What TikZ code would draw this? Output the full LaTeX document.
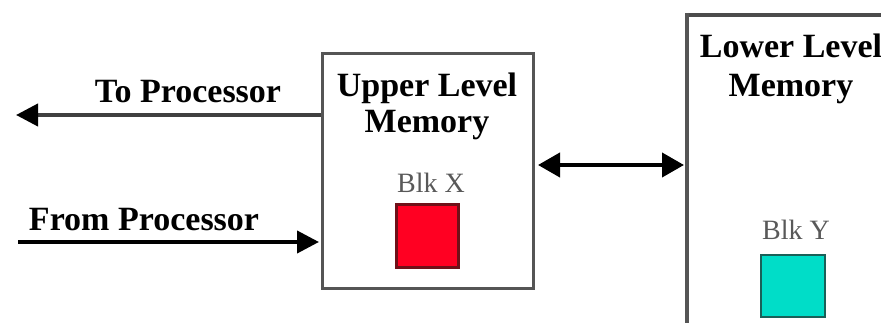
\documentclass[tikz,border=0pt]{standalone}
\usepackage{fontspec}
\setmainfont{Liberation Serif}
\usetikzlibrary{arrows.meta}
\definecolor{blkred}{HTML}{FF0022}
\definecolor{blkredb}{HTML}{701018}
\definecolor{blkcyan}{HTML}{00DDC8}
\definecolor{blkcyanb}{HTML}{1A6058}
\definecolor{boxline}{HTML}{555555}
\begin{document}
\begin{tikzpicture}[x=1pt,y=-1pt,
  membox/.style={draw=boxline,line width=3pt,fill=white},
  title/.style={font=\fontsize{34}{38}\selectfont\bfseries,inner sep=0pt,anchor=base},
  blklabel/.style={font=\fontsize{28}{30}\selectfont,text=black!65,inner sep=0pt,anchor=base},
  conn/.style={line width=4pt,-{Triangle[length=22pt,width=22pt,color=black]}},
]
\useasboundingbox (0,0) rectangle (881,323);
% Upper level memory
\draw[membox] (322,54) rectangle (533,288);
\node[title] (utitle1) at (427,97) {Upper Level};
\node[title] (utitle2) at (427,133) {Memory};
\node[blklabel] (blkx) at (431,193) {Blk X};
\node[draw=blkredb,line width=2.5pt,fill=blkred,minimum width=62pt,minimum height=63pt,inner sep=0pt] (sqx) at (427.5,236) {};
% Lower level memory
\draw[membox,draw=black!70,line width=4pt] (687,15) -- (885,15);
\draw[membox,line width=4pt] (687,13) -- (687,330);
\node[title] (ltitle1) at (791,58) {Lower Level};
\node[title] (ltitle2) at (791,97) {Memory};
\node[blklabel] (blky) at (796,240) {Blk Y};
\node[draw=blkcyanb,line width=2.5pt,fill=blkcyan,minimum width=64pt,minimum height=62pt,inner sep=0pt] (sqy) at (793,286) {};
% connectors
\coordinate (tostart) at (321,115);
\coordinate (toend) at (16,115);
\draw[conn,draw=black!75] (tostart) -- (toend);
\node[title] (tolabel) at (188,103) {To Processor};
\coordinate (fromstart) at (18,242);
\coordinate (fromend) at (319,242);
\draw[conn,draw=black] (fromstart) -- (fromend);
\node[title] (fromlabel) at (144,231) {From Processor};
\coordinate (ua) at (538,165);
\coordinate (la) at (684,165);
\draw[line width=4pt,{Triangle[length=22pt,width=24pt]}-{Triangle[length=22pt,width=24pt]}] (ua) -- (la);
\end{tikzpicture}
\end{document}
